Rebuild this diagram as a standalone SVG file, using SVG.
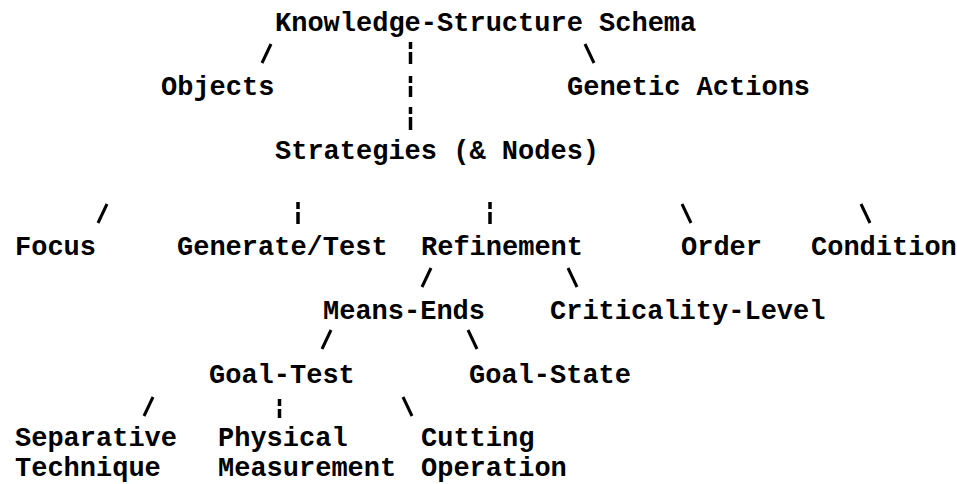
<svg xmlns="http://www.w3.org/2000/svg" width="957" height="484" viewBox="0 0 957 484">
  <style>
    text { font-family: "Liberation Mono", "DejaVu Sans Mono", monospace; font-size: 27px; font-weight: bold; fill: #000; }
    .edge { stroke: #000; stroke-width: 3; stroke-linecap: butt; fill: none; }
    .bar { stroke: #000; stroke-width: 3.5; fill: none; }
  </style>
  <rect width="957" height="484" fill="#fff"/>

  <!-- connectors: slashes and broken bars between rows -->
  <g id="connectors">
    <!-- schema -> objects / strategies / genetic actions -->
    <path class="edge" d="M262 63 L271 44"/>
    <path class="bar" d="M410.5 42 V49 M410.5 52 V64"/>
    <path class="bar" d="M410.5 76 V83 M410.5 86 V97"/>
    <path class="bar" d="M410.5 107 V114 M410.5 117 V130"/>
    <path class="edge" d="M585 44 L594 63"/>
    <!-- strategies -> five children -->
    <path class="edge" d="M98 223 L107 204"/>
    <path class="bar" d="M298 202 V209 M298 212 V224"/>
    <path class="bar" d="M490 202 V209 M490 212 V224"/>
    <path class="edge" d="M682 204 L691 223"/>
    <path class="edge" d="M861 204 L870 223"/>
    <!-- refinement -> means-ends / criticality-level -->
    <path class="edge" d="M422 287 L431 268"/>
    <path class="edge" d="M568 268 L577 287"/>
    <!-- means-ends -> goal-test / goal-state -->
    <path class="edge" d="M322 349 L331 330"/>
    <path class="edge" d="M468 330 L477 349"/>
    <!-- goal-test -> three children -->
    <path class="edge" d="M144 416 L153 397"/>
    <path class="bar" d="M279.5 399 V406 M279.5 409 V418"/>
    <path class="edge" d="M403 397 L412 416"/>
  </g>

  <g id="schema"><text x="275" y="31">Knowledge-Structure Schema</text></g>
  <g id="objects"><text x="161" y="95">Objects</text></g>
  <g id="genetic-actions"><text x="567" y="95">Genetic Actions</text></g>
  <g id="strategies"><text x="275" y="159">Strategies (&amp; Nodes)</text></g>

  <g id="focus"><text x="15" y="255">Focus</text></g>
  <g id="generate-test"><text x="177" y="255">Generate/Test</text></g>
  <g id="refinement"><text x="421" y="255">Refinement</text></g>
  <g id="order"><text x="681" y="255">Order</text></g>
  <g id="condition"><text x="811" y="255">Condition</text></g>

  <g id="means-ends"><text x="323" y="319">Means-Ends</text></g>
  <g id="criticality-level"><text x="550" y="319">Criticality-Level</text></g>

  <g id="goal-test"><text x="209" y="383">Goal-Test</text></g>
  <g id="goal-state"><text x="469" y="383">Goal-State</text></g>

  <g id="separative-technique">
    <text x="15" y="446">Separative</text>
    <text x="15" y="476">Technique</text>
  </g>
  <g id="physical-measurement">
    <text x="218" y="446">Physical</text>
    <text x="218" y="476">Measurement</text>
  </g>
  <g id="cutting-operation">
    <text x="421" y="446">Cutting</text>
    <text x="421" y="476">Operation</text>
  </g>
</svg>
